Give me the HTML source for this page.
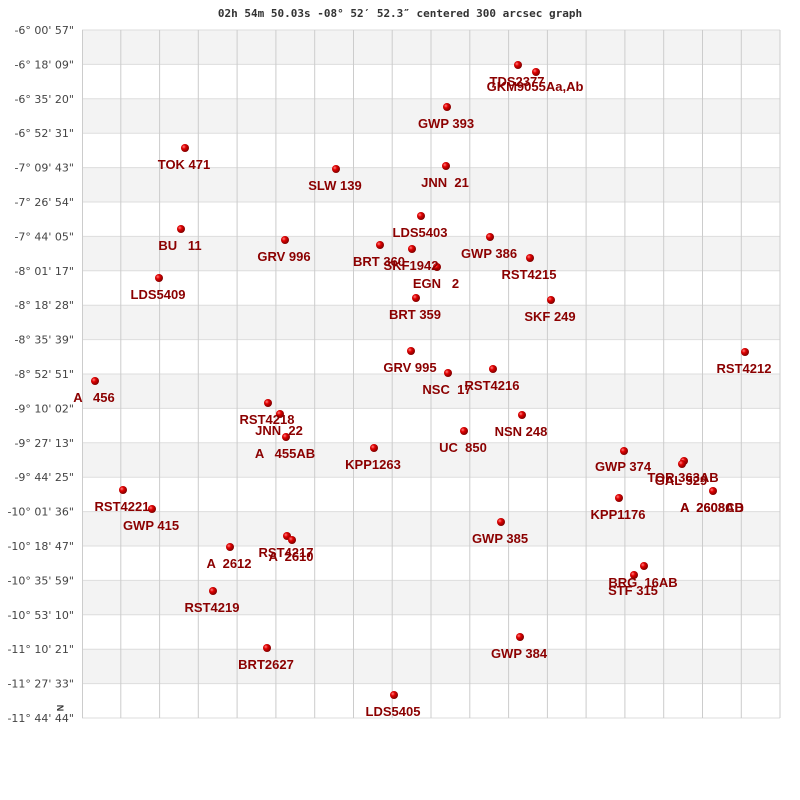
<!DOCTYPE html>
<html><head><meta charset="utf-8"><style>
body{margin:0;background:#fff}
svg{display:block}
.l{font-family:"Liberation Sans",sans-serif;font-size:13px;font-weight:bold;fill:#8b0000;text-anchor:middle;white-space:pre}
.y{font-family:"DejaVu Sans","Liberation Sans",sans-serif;font-size:11px;fill:#444;text-anchor:end}
</style></head><body>
<svg width="800" height="800" xmlns="http://www.w3.org/2000/svg">
<defs><radialGradient id="g" cx="35%" cy="35%" r="65%"><stop offset="0" stop-color="#ff8080"/><stop offset="0.4" stop-color="#e00000"/><stop offset="1" stop-color="#800000"/></radialGradient></defs>
<text x="400" y="17" text-anchor="middle" font-family="DejaVu Sans Mono,Liberation Mono,monospace" font-weight="bold" font-size="11" fill="#333">02h 54m 50.03s -08° 52′ 52.3″ centered 300 arcsec graph</text>
<g fill="#f3f3f3">
<rect x="82" y="30" width="698" height="34.4"/><rect x="82" y="98.8" width="698" height="34.4"/><rect x="82" y="167.6" width="698" height="34.4"/><rect x="82" y="236.4" width="698" height="34.4"/><rect x="82" y="305.2" width="698" height="34.4"/><rect x="82" y="374" width="698" height="34.4"/><rect x="82" y="442.8" width="698" height="34.4"/><rect x="82" y="511.6" width="698" height="34.4"/><rect x="82" y="580.4" width="698" height="34.4"/><rect x="82" y="649.2" width="698" height="34.4"/>
</g>
<path stroke="#ddd" fill="none" d="M82 30H780M82 64.4H780M82 98.8H780M82 133.2H780M82 167.6H780M82 202H780M82 236.4H780M82 270.8H780M82 305.2H780M82 339.6H780M82 374H780M82 408.4H780M82 442.8H780M82 477.2H780M82 511.6H780M82 546H780M82 580.4H780M82 614.8H780M82 649.2H780M82 683.6H780M82 718H780"/>
<path stroke="#ccc" fill="none" d="M82.5 30V718M120.8 30V718M159.6 30V718M198.3 30V718M237.1 30V718M275.9 30V718M314.7 30V718M353.5 30V718M392.2 30V718M431 30V718M469.8 30V718M508.6 30V718M547.4 30V718M586.1 30V718M624.9 30V718M663.7 30V718M702.5 30V718M741.3 30V718M780 30V718"/>
<g class="y">
<text class="y" x="74" y="34">-6° 00' 57"</text><text class="y" x="74" y="68.4">-6° 18' 09"</text><text class="y" x="74" y="102.8">-6° 35' 20"</text><text class="y" x="74" y="137.2">-6° 52' 31"</text><text class="y" x="74" y="171.6">-7° 09' 43"</text><text class="y" x="74" y="206">-7° 26' 54"</text><text class="y" x="74" y="240.4">-7° 44' 05"</text><text class="y" x="74" y="274.8">-8° 01' 17"</text><text class="y" x="74" y="309.2">-8° 18' 28"</text><text class="y" x="74" y="343.6">-8° 35' 39"</text><text class="y" x="74" y="378">-8° 52' 51"</text><text class="y" x="74" y="412.4">-9° 10' 02"</text><text class="y" x="74" y="446.8">-9° 27' 13"</text><text class="y" x="74" y="481.2">-9° 44' 25"</text><text class="y" x="74" y="515.6">-10° 01' 36"</text><text class="y" x="74" y="550">-10° 18' 47"</text><text class="y" x="74" y="584.4">-10° 35' 59"</text><text class="y" x="74" y="618.8">-10° 53' 10"</text><text class="y" x="74" y="653.2">-11° 10' 21"</text><text class="y" x="74" y="687.6">-11° 27' 33"</text><text class="y" x="74" y="722">-11° 44' 44"</text>
</g>
<text x="57" y="708" font-family="Liberation Sans,sans-serif" font-weight="bold" font-size="9" fill="#333" text-anchor="middle" transform="rotate(90 57 708)">N</text>
<g fill="url(#g)">
<circle cx="518" cy="65" r="4"/><circle cx="536" cy="72" r="4"/><circle cx="447" cy="107" r="4"/><circle cx="185" cy="148" r="4"/><circle cx="336" cy="169" r="4"/><circle cx="446" cy="166" r="4"/><circle cx="421" cy="216" r="4"/><circle cx="181" cy="229" r="4"/><circle cx="285" cy="240" r="4"/><circle cx="490" cy="237" r="4"/><circle cx="380" cy="245" r="4"/><circle cx="412" cy="249" r="4"/><circle cx="530" cy="258" r="4"/><circle cx="437" cy="267" r="4"/><circle cx="159" cy="278" r="4"/><circle cx="416" cy="298" r="4"/><circle cx="551" cy="300" r="4"/><circle cx="411" cy="351" r="4"/><circle cx="745" cy="352" r="4"/><circle cx="448" cy="373" r="4"/><circle cx="493" cy="369" r="4"/><circle cx="95" cy="381" r="4"/><circle cx="268" cy="403" r="4"/><circle cx="280" cy="414" r="4"/><circle cx="522" cy="415" r="4"/><circle cx="464" cy="431" r="4"/><circle cx="286" cy="437" r="4"/><circle cx="374" cy="448" r="4"/><circle cx="624" cy="451" r="4"/><circle cx="684" cy="461" r="4"/><circle cx="682" cy="464" r="4"/><circle cx="123" cy="490" r="4"/><circle cx="713" cy="491" r="4"/><circle cx="619" cy="498" r="4"/><circle cx="152" cy="509" r="4"/><circle cx="501" cy="522" r="4"/><circle cx="287" cy="536" r="4"/><circle cx="292" cy="540" r="4"/><circle cx="230" cy="547" r="4"/><circle cx="644" cy="566" r="4"/><circle cx="634" cy="575" r="4"/><circle cx="213" cy="591" r="4"/><circle cx="520" cy="637" r="4"/><circle cx="267" cy="648" r="4"/><circle cx="394" cy="695" r="4"/>
</g>
<g class="l">
<text class="l" x="517" y="86">TDS2377</text><text class="l" x="535" y="91">GKM9055Aa,Ab</text><text class="l" x="446" y="128">GWP 393</text><text class="l" x="184" y="169">TOK 471</text><text class="l" x="335" y="190">SLW 139</text><text class="l" x="445" y="187">JNN  21</text><text class="l" x="420" y="237">LDS5403</text><text class="l" x="180" y="250">BU   11</text><text class="l" x="284" y="261">GRV 996</text><text class="l" x="489" y="258">GWP 386</text><text class="l" x="379" y="266">BRT 360</text><text class="l" x="411" y="270">SKF1942</text><text class="l" x="529" y="279">RST4215</text><text class="l" x="436" y="288">EGN   2</text><text class="l" x="158" y="299">LDS5409</text><text class="l" x="415" y="319">BRT 359</text><text class="l" x="550" y="321">SKF 249</text><text class="l" x="410" y="372">GRV 995</text><text class="l" x="744" y="373">RST4212</text><text class="l" x="447" y="394">NSC  17</text><text class="l" x="492" y="390">RST4216</text><text class="l" x="94" y="402">A   456</text><text class="l" x="267" y="424">RST4218</text><text class="l" x="279" y="435">JNN  22</text><text class="l" x="521" y="436">NSN 248</text><text class="l" x="463" y="452">UC  850</text><text class="l" x="285" y="458">A   455AB</text><text class="l" x="373" y="469">KPP1263</text><text class="l" x="623" y="471">GWP 374</text><text class="l" x="683" y="482">TOR 363AB</text><text class="l" x="681" y="485">GAL 529</text><text class="l" x="122" y="511">RST4221</text><text class="l" x="712" y="512">A  2608AB</text><text class="l" x="712" y="512">A  2608CD</text><text class="l" x="618" y="519">KPP1176</text><text class="l" x="151" y="530">GWP 415</text><text class="l" x="500" y="543">GWP 385</text><text class="l" x="286" y="557">RST4217</text><text class="l" x="291" y="561">A  2610</text><text class="l" x="229" y="568">A  2612</text><text class="l" x="643" y="587">BRG  16AB</text><text class="l" x="633" y="595">STF 315</text><text class="l" x="212" y="612">RST4219</text><text class="l" x="519" y="658">GWP 384</text><text class="l" x="266" y="669">BRT2627</text><text class="l" x="393" y="716">LDS5405</text>
</g>
</svg>
</body></html>
